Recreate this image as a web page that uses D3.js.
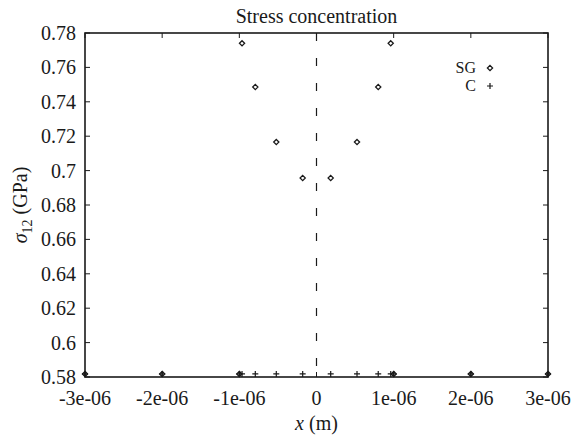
<!DOCTYPE html>
<html>
<head>
<meta charset="utf-8">
<script src="https://cdn.jsdelivr.net/npm/d3@7"></script>
<style>
  body { margin: 0; background: #fff; }
  text, tspan { font-family: 'Liberation Serif', serif !important; }
</style>
</head>
<body>
<svg id="chart" width="577" height="437"></svg>
<script>
// data (x in metres, stress in GPa)
const sgX = [-3e-6, -2e-6, -1e-6, -0.965e-6, -0.793e-6, -0.521e-6, -0.179e-6,
             0.184e-6, 0.525e-6, 0.80e-6, 0.962e-6, 1e-6, 2e-6, 3e-6];
const sgY = [0.5818, 0.5818, 0.5818, 0.774, 0.7486, 0.7166, 0.6957,
             0.6957, 0.7166, 0.7486, 0.774, 0.5818, 0.5818, 0.5818];
const cX = [-3e-6, -2e-6, -1e-6, -0.965e-6, -0.793e-6, -0.521e-6, -0.179e-6,
            0.184e-6, 0.525e-6, 0.80e-6, 0.962e-6, 1e-6, 2e-6, 3e-6];
const cY = [0.5818, 0.5818, 0.5818, 0.5818, 0.5818, 0.5818, 0.5818,
            0.5818, 0.5818, 0.5818, 0.5818, 0.5818, 0.5818, 0.5818];
const xTicks = [-3e-6, -2e-6, -1e-6, 0, 1e-6, 2e-6, 3e-6];
const xTickLabels = ['-3e-06', '-2e-06', '-1e-06', '0', '1e-06', '2e-06', '3e-06'];
const yTicks = [0.58, 0.6, 0.62, 0.64, 0.66, 0.68, 0.7, 0.72, 0.74, 0.76, 0.78];
const yTickLabels = ['0.58', '0.6', '0.62', '0.64', '0.66', '0.68', '0.7', '0.72', '0.74', '0.76', '0.78'];

const ink = '#1a1a1a';
const plotL = 85, plotR = 548, plotT = 33, plotB = 377;

const svg = d3.select('#chart');

const x = d3.scaleLinear().domain([-3e-6, 3e-6]).range([plotL, plotR]);
const y = d3.scaleLinear().domain([0.58, 0.78]).range([plotB, plotT]);

// dashed line at x = 0
svg.append('line')
  .attr('x1', x(0)).attr('x2', x(0))
  .attr('y1', y(0.78)).attr('y2', y(0.58))
  .attr('stroke', ink).attr('stroke-width', 1.2)
  .attr('stroke-dasharray', '8,17');

// inward ticks on all four sides
const tickLen = 5;
xTicks.forEach(t => {
  svg.append('line').attr('x1', x(t)).attr('x2', x(t))
    .attr('y1', plotB).attr('y2', plotB - tickLen)
    .attr('stroke', ink).attr('stroke-width', 1);
  svg.append('line').attr('x1', x(t)).attr('x2', x(t))
    .attr('y1', plotT).attr('y2', plotT + tickLen)
    .attr('stroke', ink).attr('stroke-width', 1);
});
yTicks.forEach(t => {
  svg.append('line').attr('x1', plotL).attr('x2', plotL + tickLen)
    .attr('y1', y(t)).attr('y2', y(t))
    .attr('stroke', ink).attr('stroke-width', 1);
  svg.append('line').attr('x1', plotR).attr('x2', plotR - tickLen)
    .attr('y1', y(t)).attr('y2', y(t))
    .attr('stroke', ink).attr('stroke-width', 1);
});

// border
svg.append('rect')
  .attr('x', plotL).attr('y', plotT)
  .attr('width', plotR - plotL).attr('height', plotB - plotT)
  .attr('fill', 'none').attr('stroke', ink).attr('stroke-width', 1.6);

// tick labels
svg.append('g').selectAll('text')
  .data(xTicks)
  .join('text')
  .attr('x', d => x(d))
  .attr('y', 405)
  .attr('text-anchor', 'middle')
  .attr('font-size', 20)
  .attr('fill', ink)
  .text((d, i) => xTickLabels[i]);

svg.append('g').selectAll('text')
  .data(yTicks)
  .join('text')
  .attr('x', 76)
  .attr('y', d => y(d) + 7)
  .attr('text-anchor', 'end')
  .attr('font-size', 20)
  .attr('fill', ink)
  .text((d, i) => yTickLabels[i]);

// title and axis labels
svg.append('text')
  .attr('x', (plotL + plotR) / 2).attr('y', 23)
  .attr('text-anchor', 'middle')
  .attr('font-size', 20)
  .attr('fill', ink)
  .text('Stress concentration');

const xl = svg.append('text')
  .attr('x', (plotL + plotR) / 2).attr('y', 430)
  .attr('text-anchor', 'middle')
  .attr('font-size', 20)
  .attr('fill', ink);
xl.append('tspan').attr('font-style', 'italic').text('x');
xl.append('tspan').text(' (m)');

const yl = svg.append('text')
  .attr('transform', `translate(27,${(plotT + plotB) / 2}) rotate(-90)`)
  .attr('text-anchor', 'middle')
  .attr('font-size', 20)
  .attr('fill', ink);
yl.append('tspan').attr('font-style', 'italic').text('σ');
yl.append('tspan').attr('font-size', 14).attr('dy', 5).text('12');
yl.append('tspan').attr('dy', -5).text(' (GPa)');

// markers
function diamond(cx, cy, r) {
  return `M${cx},${cy - r}L${cx + r},${cy}L${cx},${cy + r}L${cx - r},${cy}Z`;
}
function plus(cx, cy, r) {
  return `M${cx - r},${cy}H${cx + r}M${cx},${cy - r}V${cy + r}`;
}

svg.append('g').selectAll('path')
  .data(sgX.map((d, i) => [d, sgY[i]]))
  .join('path')
  .attr('d', d => diamond(x(d[0]), y(d[1]), 2.6))
  .attr('fill', 'none').attr('stroke', ink).attr('stroke-width', 1.3);

svg.append('g').selectAll('path')
  .data(cX.map((d, i) => [d, cY[i]]))
  .join('path')
  .attr('d', d => plus(x(d[0]), y(d[1]), 3))
  .attr('fill', 'none').attr('stroke', ink).attr('stroke-width', 1.2);

// legend
svg.append('text').attr('x', 476).attr('y', 73)
  .attr('text-anchor', 'end')
  .attr('font-size', 16).attr('fill', ink).text('SG');
svg.append('path').attr('d', diamond(490, 68, 2.6))
  .attr('fill', 'none').attr('stroke', ink).attr('stroke-width', 1.3);
svg.append('text').attr('x', 476).attr('y', 91)
  .attr('text-anchor', 'end')
  .attr('font-size', 16).attr('fill', ink).text('C');
svg.append('path').attr('d', plus(490, 86, 3))
  .attr('fill', 'none').attr('stroke', ink).attr('stroke-width', 1.2);
</script>
</body>
</html>
